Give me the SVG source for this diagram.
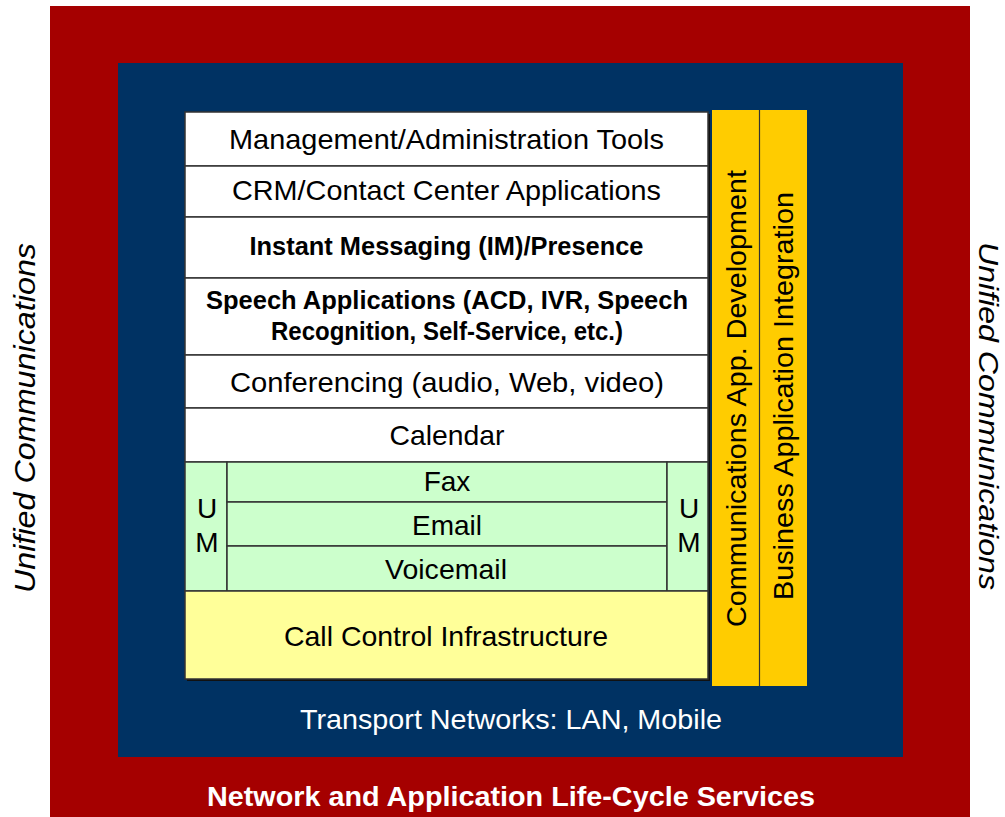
<svg xmlns="http://www.w3.org/2000/svg" width="1005" height="817" viewBox="0 0 1005 817">
<style>
  text { font-family: "Liberation Sans", Arial, sans-serif; fill: #000; text-anchor: middle; }
  .r { font-size: 28px; }
  .b { font-size: 25px; font-weight: bold; }
  .w { fill: #ffffff; }
  .it { font-size: 30px; font-style: italic; }
  .row { stroke: #333; stroke-width: 1.5; }
</style>
<rect width="1005" height="817" fill="#ffffff"/>
<g id="lifecycle">
  <rect x="50" y="6" width="920" height="811" fill="#a50000"/>
  <text class="b w" x="511" y="806" style="font-size:27px" textLength="608" lengthAdjust="spacingAndGlyphs">Network and Application Life-Cycle Services</text>
</g>
<g id="transport">
  <rect x="118" y="63" width="785" height="694" fill="#003263"/>
  <text class="r w" x="511" y="729" textLength="422" lengthAdjust="spacingAndGlyphs">Transport Networks: LAN, Mobile</text>
</g>
<g id="uc-left">
  <text class="it" transform="translate(35,418) rotate(-90)" textLength="350" lengthAdjust="spacingAndGlyphs">Unified Communications</text>
</g>
<g id="uc-right">
  <text class="it" style="font-size:28px" transform="translate(979,416) rotate(90)" textLength="348" lengthAdjust="spacingAndGlyphs">Unified Communications</text>
</g>
<g id="stack-shadow">
  <rect x="187" y="114" width="523" height="567" fill="#111"/>
</g>
<g id="mgmt">
  <rect class="row" x="185" y="112" width="523" height="54" fill="#ffffff"/>
  <text class="r" x="446.5" y="149" textLength="435" lengthAdjust="spacingAndGlyphs">Management/Administration Tools</text>
</g>
<g id="crm">
  <rect class="row" x="185" y="166" width="523" height="51" fill="#ffffff"/>
  <text class="r" x="446.5" y="200" textLength="429" lengthAdjust="spacingAndGlyphs">CRM/Contact Center Applications</text>
</g>
<g id="im">
  <rect class="row" x="185" y="217" width="523" height="61" fill="#ffffff"/>
  <text class="b" x="446.5" y="255" textLength="394" lengthAdjust="spacingAndGlyphs">Instant Messaging (IM)/Presence</text>
</g>
<g id="speech">
  <rect class="row" x="185" y="278" width="523" height="77" fill="#ffffff"/>
  <text class="b" x="447" y="309" textLength="482" lengthAdjust="spacingAndGlyphs">Speech Applications (ACD, IVR, Speech</text>
  <text class="b" x="447" y="340" textLength="352" lengthAdjust="spacingAndGlyphs">Recognition, Self-Service, etc.)</text>
</g>
<g id="conferencing">
  <rect class="row" x="185" y="355" width="523" height="53" fill="#ffffff"/>
  <text class="r" x="447" y="392" textLength="434" lengthAdjust="spacingAndGlyphs">Conferencing (audio, Web, video)</text>
</g>
<g id="calendar">
  <rect class="row" x="185" y="408" width="523" height="54" fill="#ffffff"/>
  <text class="r" x="447" y="445" textLength="115" lengthAdjust="spacingAndGlyphs">Calendar</text>
</g>
<g id="um-left">
  <rect class="row" x="185" y="462" width="42" height="129" fill="#ccffcc"/>
  <text class="r" x="207" y="518">U</text>
  <text class="r" x="207" y="552">M</text>
</g>
<g id="fax">
  <rect class="row" x="227" y="462" width="440" height="40" fill="#ccffcc"/>
  <text class="r" x="447" y="491">Fax</text>
</g>
<g id="email">
  <rect class="row" x="227" y="502" width="440" height="44" fill="#ccffcc"/>
  <text class="r" x="447" y="535">Email</text>
</g>
<g id="voicemail">
  <rect class="row" x="227" y="546" width="440" height="45" fill="#ccffcc"/>
  <text class="r" x="446" y="579" textLength="122" lengthAdjust="spacingAndGlyphs">Voicemail</text>
</g>
<g id="um-right">
  <rect class="row" x="667" y="462" width="41" height="129" fill="#ccffcc"/>
  <text class="r" x="689" y="518">U</text>
  <text class="r" x="689" y="552">M</text>
</g>
<g id="call-control">
  <rect class="row" x="185" y="591" width="523" height="88" fill="#ffff99"/>
  <text class="r" x="446" y="646" textLength="324" lengthAdjust="spacingAndGlyphs">Call Control Infrastructure</text>
</g>
<g id="comm-dev">
  <rect x="712" y="110" width="47.5" height="576" fill="#ffcc00"/>
  <text class="r" transform="translate(746,398.5) rotate(-90)" textLength="457" lengthAdjust="spacingAndGlyphs">Communications App. Development</text>
</g>
<g id="biz-int">
  <rect x="759.5" y="110" width="47.5" height="576" fill="#ffcc00"/>
  <line x1="759.5" y1="110" x2="759.5" y2="686" stroke="#333" stroke-width="1.2"/>
  <text class="r" transform="translate(793,396) rotate(-90)" textLength="408" lengthAdjust="spacingAndGlyphs">Business Application Integration</text>
</g>
<g id="connectors"></g>
</svg>
